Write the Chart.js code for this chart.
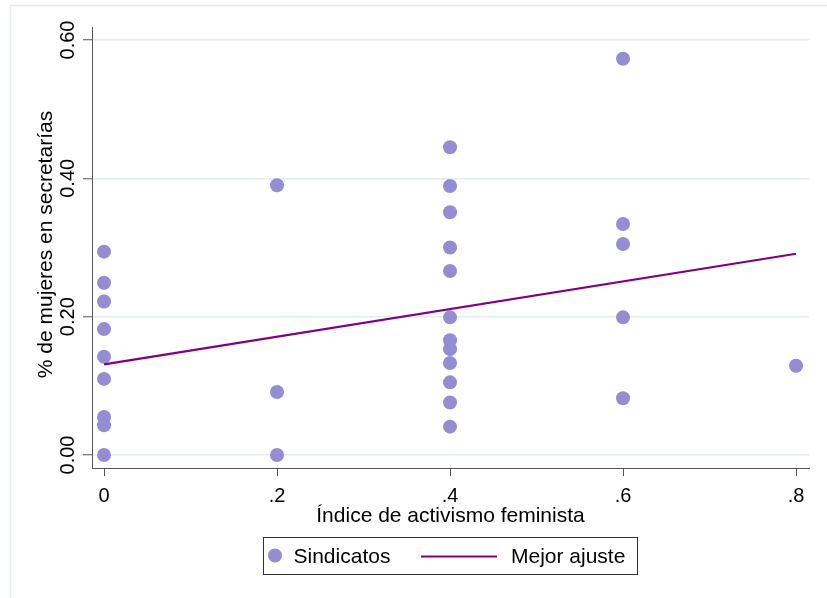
<!DOCTYPE html>
<html>
<head>
<meta charset="utf-8">
<script src="https://cdn.jsdelivr.net/npm/chart.js@4.4.1/dist/chart.umd.min.js"></script>
<style>
  html, body { margin: 0; padding: 0; background: #ffffff; }
  #wrap { width: 827px; height: 598px; position: relative; }
</style>
</head>
<body>
<div id="wrap"><canvas id="chart" width="827" height="598"></canvas></div>
<script>
// Feminist activism index of each union and share of women in its secretariats
const activismo = [
  0, 0, 0, 0, 0, 0, 0, 0, 0,
  0.2, 0.2, 0.2,
  0.4, 0.4, 0.4, 0.4, 0.4, 0.4, 0.4, 0.4, 0.4, 0.4, 0.4, 0.4,
  0.6, 0.6, 0.6, 0.6, 0.6,
  0.8
];
const secretarias = [
  0.294, 0.249, 0.222, 0.182, 0.142, 0.110, 0.055, 0.043, 0.000,
  0.390, 0.091, 0.000,
  0.445, 0.389, 0.351, 0.300, 0.266, 0.199, 0.166, 0.153, 0.133, 0.105, 0.076, 0.041,
  0.573, 0.334, 0.305, 0.199, 0.082,
  0.129
];

// Fitted line end points
const ajusteX = [0, 0.8];
const ajusteY = [0.131, 0.291];

// Axis ticks and their labels
const xTicks = [0, 0.2, 0.4, 0.6, 0.8];
const xTickLabels = ['0', '.2', '.4', '.6', '.8'];
const yTicks = [0, 0.2, 0.4, 0.6];
const yTickLabels = ['0.00', '0.20', '0.40', '0.60'];

const xTitle = 'Índice de activismo feminista';
const yTitle = '% de mujeres en secretarías';

const FONT = '"Liberation Sans", Arial, sans-serif';
const DOT = '#958dd3';
const FIT = '#800080';
const AXIS = '#555555';
const GRID = '#e4ecef';

const puntos = activismo.map((x, i) => ({ x: x, y: secretarias[i] }));
const ajuste = ajusteX.map((x, i) => ({ x: x, y: ajusteY[i] }));

// Outer frame, tick labels, axis titles and legend box
const decor = {
  id: 'decor',
  beforeDraw(chart) {
    const ctx = chart.ctx;
    ctx.save();
    ctx.strokeStyle = '#e6edf0';
    ctx.lineWidth = 1.5;
    ctx.strokeRect(10.5, 5.5, 900, 700);
    ctx.restore();
  },
  afterDraw(chart) {
    const ctx = chart.ctx;
    const xs = chart.scales.x, ys = chart.scales.y;
    const area = chart.chartArea;
    ctx.save();
    ctx.fillStyle = '#000000';

    // x tick labels
    ctx.font = '20px ' + FONT;
    ctx.textAlign = 'center';
    ctx.textBaseline = 'alphabetic';
    xTicks.forEach((v, i) => {
      ctx.fillText(xTickLabels[i], xs.getPixelForValue(v), 501.5);
    });

    // x title
    ctx.font = '21px ' + FONT;
    ctx.fillText(xTitle, (area.left + area.right) / 2, 521.5);

    // y tick labels, rotated
    ctx.font = '20px ' + FONT;
    yTicks.forEach((v, i) => {
      ctx.save();
      ctx.translate(73.5, ys.getPixelForValue(v));
      ctx.rotate(-Math.PI / 2);
      ctx.textAlign = 'center';
      ctx.textBaseline = 'alphabetic';
      ctx.fillText(yTickLabels[i], 0, 0);
      ctx.restore();
    });

    // y title, rotated
    ctx.save();
    ctx.font = '21px ' + FONT;
    ctx.translate(52, (area.top + area.bottom) / 2 - 3);
    ctx.rotate(-Math.PI / 2);
    ctx.textAlign = 'center';
    ctx.textBaseline = 'alphabetic';
    ctx.fillText(yTitle, 0, 0);
    ctx.restore();

    // legend
    const ds = chart.data.datasets;
    const bx = 263, by = 537, bw = 374, bh = 37;
    ctx.strokeStyle = '#333333';
    ctx.lineWidth = 1;
    ctx.strokeRect(bx + 0.5, by + 0.5, bw, bh);
    const cy = by + bh / 2;
    ctx.fillStyle = DOT;
    ctx.beginPath();
    ctx.arc(275, cy, 7, 0, Math.PI * 2);
    ctx.fill();
    ctx.fillStyle = '#000000';
    ctx.font = '21px ' + FONT;
    ctx.textAlign = 'left';
    ctx.fillText(ds[1].label, 293.5, 562.5);
    ctx.strokeStyle = FIT;
    ctx.lineWidth = 2.2;
    ctx.beginPath();
    ctx.moveTo(421, cy + 1);
    ctx.lineTo(497, cy + 1);
    ctx.stroke();
    ctx.fillText(ds[0].label, 511, 562.5);
    ctx.restore();
  }
};

new Chart(document.getElementById('chart'), {
  type: 'scatter',
  data: {
    datasets: [
      {
        label: 'Mejor ajuste',
        data: ajuste,
        showLine: true,
        borderColor: FIT,
        borderWidth: 2.2,
        pointRadius: 0,
        fill: false,
        order: 0
      },
      {
        label: 'Sindicatos',
        data: puntos,
        backgroundColor: DOT,
        borderWidth: 0,
        pointRadius: 7,
        pointHoverRadius: 7,
        order: 1
      }
    ]
  },
  options: {
    responsive: false,
    animation: false,
    devicePixelRatio: 1,
    layout: { padding: { top: 27, right: 18, left: 0, bottom: 0 } },
    plugins: {
      legend: { display: false },
      tooltip: { enabled: false }
    },
    scales: {
      x: {
        type: 'linear',
        min: -0.0139,
        max: 0.815,
        afterBuildTicks: s => { s.ticks = xTicks.map(v => ({ value: v })); },
        afterFit: s => { s.height = 130; },
        ticks: { display: false },
        grid: {
          drawOnChartArea: false,
          drawTicks: true,
          tickLength: 8,
          tickColor: AXIS,
          tickWidth: 1
        },
        border: { display: true, color: AXIS, width: 1 }
      },
      y: {
        type: 'linear',
        min: -0.0188,
        max: 0.6188,
        afterBuildTicks: s => { s.ticks = yTicks.map(v => ({ value: v })); },
        afterFit: s => { s.width = 92; },
        ticks: { display: false },
        grid: {
          drawOnChartArea: true,
          color: GRID,
          lineWidth: 1.5,
          drawTicks: true,
          tickLength: 9,
          tickColor: AXIS,
          tickWidth: 1
        },
        border: { display: true, color: AXIS, width: 1 }
      }
    }
  },
  plugins: [decor]
});
</script>
</body>
</html>
